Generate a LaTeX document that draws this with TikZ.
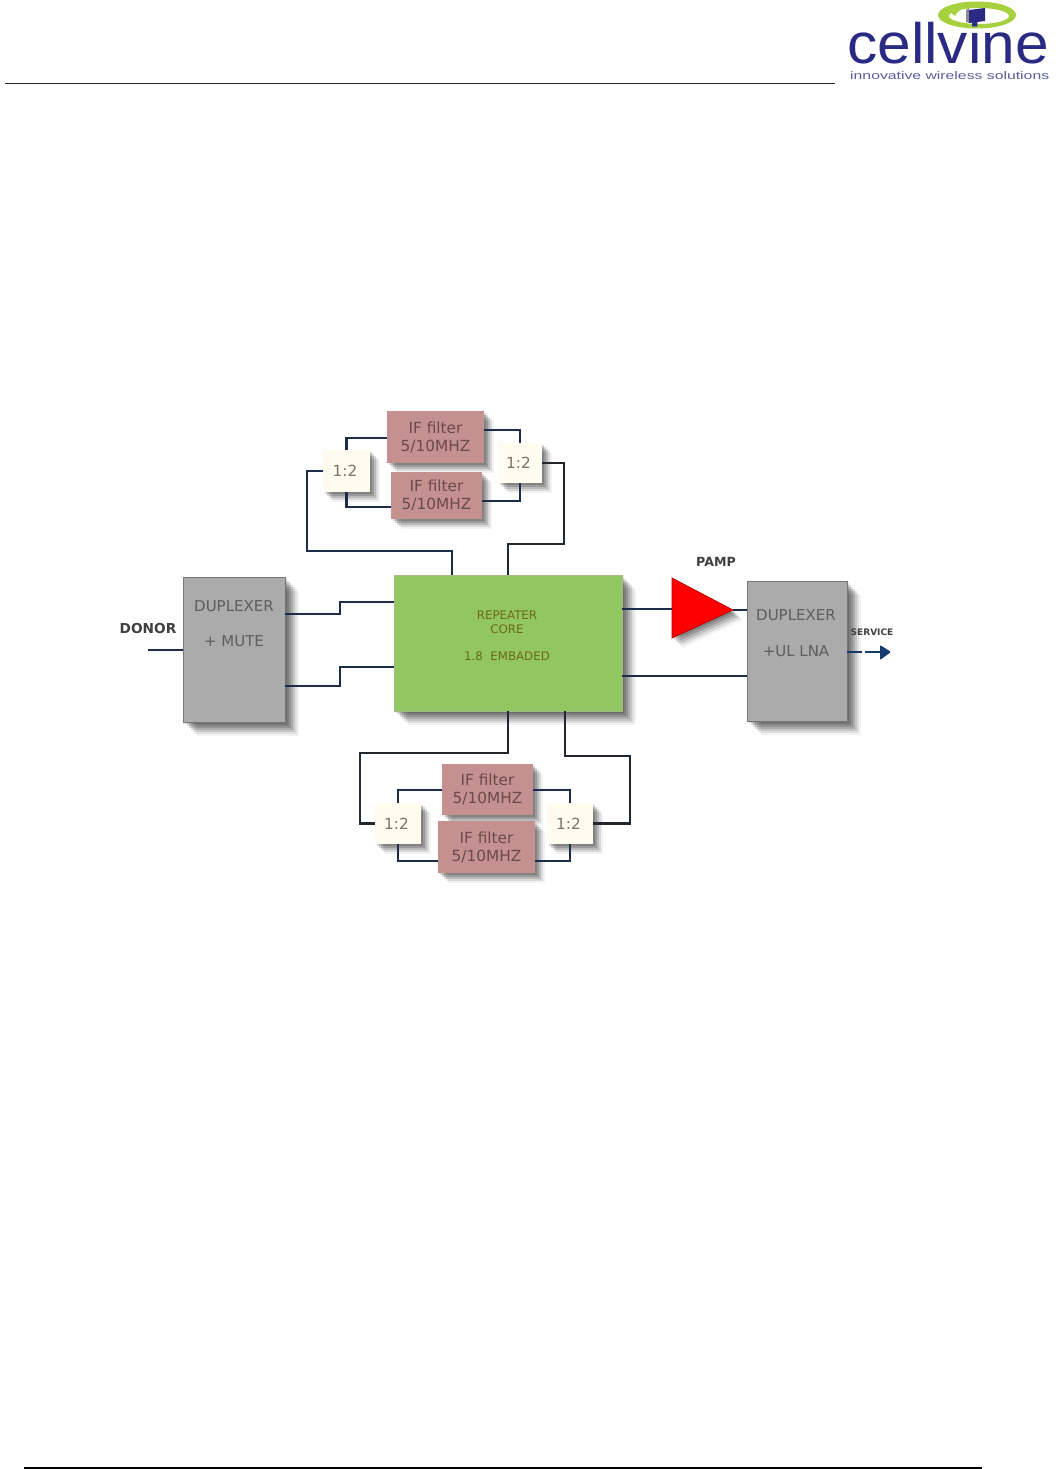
\documentclass[tikz,border=0pt]{standalone}
\usepackage{graphicx}
\usepackage{fontspec}
\setmainfont{DejaVu Sans}
\newfontfamily\logofont{Liberation Sans}
\usetikzlibrary{shadows,calc}
\definecolor{wire}{HTML}{1E2C4C}
\definecolor{wirek}{HTML}{22262E}
\definecolor{navy}{HTML}{2A2A84}
\definecolor{svcblue}{HTML}{153A6E}
\tikzset{
  x=1pt,y=-1pt,
  softshadow/.style={
    drop shadow={shadow xshift=2pt,shadow yshift=-2pt,fill=black,opacity=.14},
    drop shadow={shadow xshift=4pt,shadow yshift=-4pt,fill=black,opacity=.14},
    drop shadow={shadow xshift=6pt,shadow yshift=-6pt,fill=black,opacity=.14},
    drop shadow={shadow xshift=8pt,shadow yshift=-8pt,fill=black,opacity=.13},
    drop shadow={shadow xshift=10pt,shadow yshift=-10pt,fill=black,opacity=.11},
    drop shadow={shadow xshift=12pt,shadow yshift=-12pt,fill=black,opacity=.08},
    drop shadow={shadow xshift=14pt,shadow yshift=-14pt,fill=black,opacity=.05}},
  smallshadow/.style={
    drop shadow={shadow xshift=2pt,shadow yshift=-2pt,fill=black,opacity=.16},
    drop shadow={shadow xshift=4pt,shadow yshift=-4pt,fill=black,opacity=.16},
    drop shadow={shadow xshift=6pt,shadow yshift=-6pt,fill=black,opacity=.14},
    drop shadow={shadow xshift=8pt,shadow yshift=-8pt,fill=black,opacity=.10},
    drop shadow={shadow xshift=10pt,shadow yshift=-10pt,fill=black,opacity=.05}},
  blockbase/.style={rectangle,inner sep=0pt,outer sep=0pt,align=center},
  filterbox/.style={blockbase,smallshadow,fill=filterpink,text=filtertext,font=\fontsize{15.3}{18}\selectfont},
  splitbox/.style={blockbase,smallshadow,fill=creamfill,text=splittext,font=\fontsize{15.3}{18}\selectfont},
  duplexbox/.style={blockbase,softshadow,fill=duplexgray,draw=duplexedge,line width=.8pt},
  corebox/.style={blockbase,softshadow,fill=coregreen,draw=coreedge,line width=.6pt},
  dupltext/.style={text=duplextext,inner sep=0pt,font=\fontsize{15}{18}\selectfont},
  coretextstyle/.style={text=coretext,inner sep=0pt,align=center,font=\fontsize{11.8}{14}\selectfont},
  wirethin/.style={draw=wire,line width=2.4pt,line join=miter},
  wirethick/.style={draw=wirek,line width=2.8pt,line join=miter},
  labelbold/.style={inner sep=0pt,text=black!75},
}
\definecolor{filterpink}{HTML}{C59090}
\definecolor{filtertext}{HTML}{6A4A4C}
\definecolor{creamfill}{HTML}{FFFBEF}
\definecolor{splittext}{HTML}{77766A}
\definecolor{duplexgray}{HTML}{ABABAB}
\definecolor{duplexedge}{HTML}{777777}
\definecolor{duplextext}{HTML}{5E5E5E}
\definecolor{coregreen}{HTML}{92C660}
\definecolor{coreedge}{HTML}{A9B985}
\definecolor{coretext}{HTML}{6B6A14}
\definecolor{logogreen}{HTML}{A6D03E}
\definecolor{tagblue}{HTML}{5C5CA0}
\begin{document}
\begin{tikzpicture}
\useasboundingbox (0,0) rectangle (1055,1469);
\fill[white] (0,0) rectangle (1055,1469);
% page rules
\coordinate (topL) at (5,84); \coordinate (topR) at (835,84);
\coordinate (botL) at (24,1468); \coordinate (botR) at (982,1468);
\draw[line width=1pt,black!85] (topL) -- (topR);
\draw[line width=2pt,black] (botL) -- (botR);
% logo
\fill[logogreen,even odd rule] (977,15) ellipse [x radius=39,y radius=13.5]
  (979,16) ellipse [x radius=30,y radius=8];
\fill[logogreen] (950,12) .. controls (956,7) and (964,6) .. (970,6) .. controls (962,8) and (956,12) .. (955,16) -- cycle;
\fill[black!45] (966,10) -- (969,8) -- (969,23) -- (966,22) -- cycle;
\fill[navy] (969,10) -- (985,8) -- (985,21) -- (969,23) -- cycle;
\node[anchor=base west,inner sep=0pt,text=navy,font=\logofont\fontsize{57}{57}\selectfont] (logo) at (847,63.5) {\scalebox{1.06}[1]{cellvine}};
\node[anchor=base west,inner sep=0pt,text=tagblue,font=\logofont] (tag) at (850,80) {\resizebox{199pt}{8pt}{innovative wireless solutions}};
% blocks
\node[filterbox,minimum width=97pt,minimum height=52pt] (fa) at (435.5,437) {IF filter\\5/10MHZ};
\node[filterbox,minimum width=91pt,minimum height=47pt] (fb) at (436.5,495.5) {IF filter\\5/10MHZ};
\node[splitbox,minimum width=47pt,minimum height=42pt] (sl) at (346.5,471) {\hspace*{-3pt}1:2};
\node[splitbox,minimum width=44pt,minimum height=40pt] (sr) at (520,463) {\hspace*{-3pt}1:2};
\node[filterbox,minimum width=91pt,minimum height=51pt] (fc) at (487.5,789.5) {IF filter\\5/10MHZ};
\node[filterbox,minimum width=97pt,minimum height=52pt] (fd) at (486.5,847) {IF filter\\5/10MHZ};
\node[splitbox,minimum width=46pt,minimum height=41pt] (sc) at (398,823.5) {\hspace*{-3pt}1:2};
\node[splitbox,minimum width=46pt,minimum height=41pt] (sd) at (570,823.5) {\hspace*{-3pt}1:2};
\node[corebox,minimum width=228pt,minimum height=136pt] (core) at (508,643) {};
\node[coretextstyle] (coretxt) at (507,636) {REPEATER\\CORE\\[13pt]1.8\ \ EMBADED};
\node[duplexbox,minimum width=102pt,minimum height=145pt] (dl) at (234,649.5) {};
\node[duplexbox,minimum width=100pt,minimum height=140pt] (dr) at (797,651) {};
\node[dupltext] (dlt1) at (234,606) {DUPLEXER};
\node[dupltext] (dlt2) at (234,641) {+ MUTE};
\node[dupltext] (drt1) at (796,615) {DUPLEXER};
\node[dupltext] (drt2) at (796,651) {+UL LNA};
\coordinate (tri1) at (672,578); \coordinate (tri2) at (672,638); \coordinate (tri3) at (733,610);
\path[fill=red,draw=red!70!black,line width=.7pt,line join=miter,smallshadow] (tri1) -- (tri3) -- (tri2) -- cycle;
\coordinate (pampin) at (672,609);
% labels
\node[labelbold,font=\bfseries\fontsize{13.7}{16}\selectfont] (donor) at (148,629) {DONOR};
\node[labelbold,font=\bfseries\fontsize{12.6}{15}\selectfont] (pamp) at (716,562) {PAMP};
\node[labelbold,font=\bfseries\fontsize{9}{10}\selectfont] (service) at (872,632) {SERVICE};
% top loop
\draw[wirethin] (sl.north) -- (sl.north |- 0,438) -- (fa.west |- 0,438);
\draw[wirethin] (sl.south) -- (sl.south |- 0,507) -- (fb.west |- 0,507);
\draw[wirethin] (fa.east |- 0,430) -- (sr.north |- 0,430) -- (sr.north);
\draw[wirethin] (fb.east |- 0,501) -- (sr.south |- 0,501) -- (sr.south);
\draw[wirethick] (sr.east) -- (564,463) -- (564,544) -- (core.north |- 0,544) -- (core.north);
\draw[wirethin] (sl.west) -- (307,471) -- (307,551) -- (452,551) -- (452,575);
% bottom loop
\draw[wirethin] (sc.north) -- (sc.north |- 0,790) -- (fc.west |- 0,790);
\draw[wirethin] (sc.south) -- (sc.south |- 0,861) -- (fd.west |- 0,861);
\draw[wirethin] (fc.east |- 0,790) -- (sd.north |- 0,790) -- (sd.north);
\draw[wirethin] (fd.east |- 0,861) -- (sd.south |- 0,861) -- (sd.south);
\draw[wirethick] (core.south) -- (508,753) -- (360,753) -- (360,823.5) -- (sc.west);
\draw[wirethick] (565,711) -- (565,756) -- (630,756) -- (630,823.5) -- (sd.east);
% left side
\coordinate (donorin) at (148,650);
\draw[wirethin] (donorin) -- (dl.west |- donorin);
\draw[wirethin] (dl.east |- 0,614) -- (340,614) -- (340,602) -- (core.west |- 0,602);
\draw[wirethin] (dl.east |- 0,686) -- (340,686) -- (340,667) -- (core.west |- 0,667);
% right side
\draw[wirethin] (core.east |- pampin) -- (pampin);
\draw[wirethin] (tri3) -- (dr.west |- tri3);
\draw[wirethin] (core.east |- 0,676) -- (dr.west |- 0,676);
\coordinate (svc1) at (862,652); \coordinate (svc2) at (865,652); \coordinate (svc3) at (891,652);
\draw[wirethin,draw=svcblue] (dr.east |- svc1) -- (svc1);
\draw[wirethin,draw=svcblue] (svc2) -- (882,652);
\fill[svcblue,rounded corners=1pt] (880,645) -- (svc3) -- (880,660) -- cycle;
\end{tikzpicture}
\end{document}
